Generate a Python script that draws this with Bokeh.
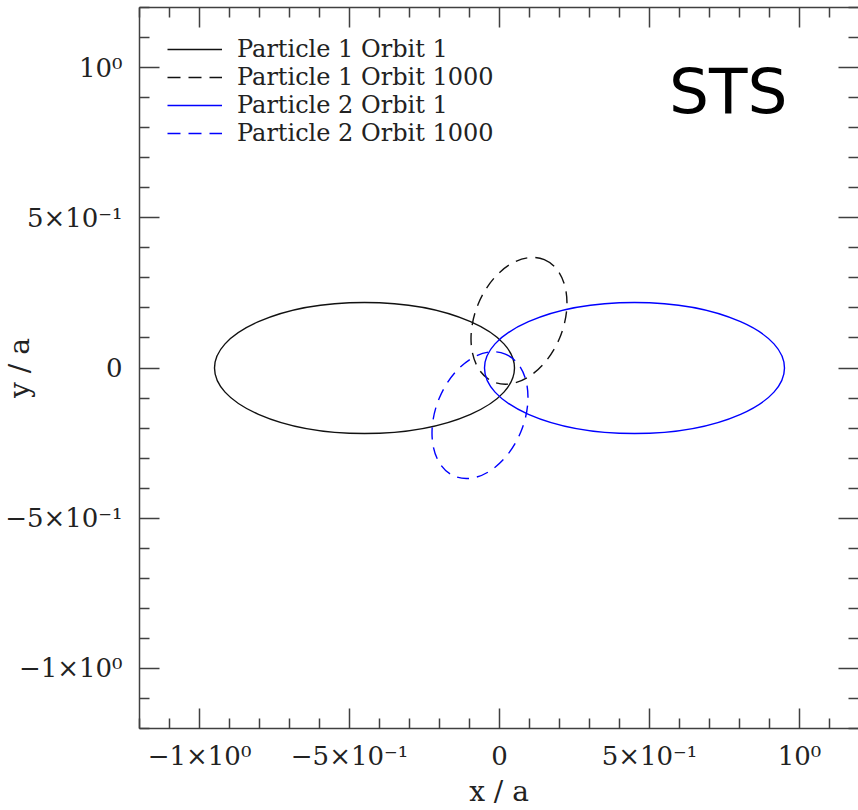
import math
from bokeh.plotting import figure
from bokeh.models import (Range1d, LinearAxis, FixedTicker, Legend, LegendItem, Label)
from bokeh.embed import file_html
from bokeh.resources import INLINE

# ---- data ----
orbit_names = ["Particle 1 Orbit 1", "Particle 1 Orbit 1000",
               "Particle 2 Orbit 1", "Particle 2 Orbit 1000"]
center_x = [-0.45, 0.065, 0.45, -0.065]
center_y = [0.0, 0.157, 0.0, -0.157]
major_axis = [1.0, 0.441, 1.0, 0.441]
minor_axis = [0.436, 0.294, 0.436, 0.294]
tilt_deg = [0.0, 67.5, 0.0, 67.5]

tick_values = [-1.0, -0.5, 0.0, 0.5, 1.0]
tick_labels = ["\u22121\u00d710\u2070", "\u22125\u00d710\u207b\u00b9", "0",
               "5\u00d710\u207b\u00b9", "10\u2070"]
minor_tick_values = [-1.2, -1.1, -0.9, -0.8, -0.7, -0.6, -0.4, -0.3, -0.2, -0.1,
                     0.1, 0.2, 0.3, 0.4, 0.6, 0.7, 0.8, 0.9, 1.1, 1.2]

# ---- styles ----
line_colors = ["#111111", "#111111", "#0000ff", "#0000ff"]
line_dashes = ["solid", "12 8", "solid", "12 8"]
legend_dashes = ["solid", "13 8", "solid", "13 8"]
AX = "#404040"
SERIF = "DejaVu Serif"

p = figure(width=858, height=810,
           x_range=Range1d(-1.2, 1.1967), y_range=Range1d(-1.2, 1.2),
           output_backend="svg", toolbar_location=None,
           x_axis_location=None, y_axis_location=None,
           min_border_left=139, min_border_right=0,
           min_border_top=7, min_border_bottom=82)
p.xgrid.visible = False
p.ygrid.visible = False
p.outline_line_color = None
p.background_fill_color = "white"
p.border_fill_color = "white"


def make_axis(show_labels, show_line=True):
    ax = LinearAxis(ticker=FixedTicker(ticks=tick_values, minor_ticks=minor_tick_values))
    ax.major_tick_in = 20
    ax.major_tick_out = 0
    ax.minor_tick_in = 10
    ax.minor_tick_out = 0
    ax.axis_line_color = AX if show_line else None
    ax.axis_line_width = 1.5
    ax.major_tick_line_color = AX
    ax.major_tick_line_width = 1.5
    ax.minor_tick_line_color = AX
    ax.minor_tick_line_width = 1.5
    if show_labels:
        ax.major_label_overrides = {v: t for v, t in zip(tick_values, tick_labels)}
        ax.major_label_text_font = SERIF
        ax.major_label_text_font_size = "26px"
        ax.major_label_text_color = "#222222"
        ax.axis_label_text_font = SERIF
        ax.axis_label_text_font_size = "28px"
        ax.axis_label_text_font_style = "normal"
        ax.axis_label_text_color = "#222222"
    else:
        ax.major_label_text_font_size = "0px"
        ax.major_label_text_color = None
        ax.major_label_standoff = 0
    return ax


bottom = make_axis(True)
bottom.major_label_standoff = 12
bottom.axis_label = "x / a"
bottom.axis_label_standoff = 1
left = make_axis(True)
left.major_label_standoff = 17
left.axis_label = "y / a"
left.axis_label_standoff = -34
top = make_axis(False)
right = make_axis(False, show_line=False)
p.add_layout(bottom, "below")
p.add_layout(left, "left")
p.add_layout(top, "above")
p.add_layout(right, "right")

items = []
for i, name in enumerate(orbit_names):
    p.ellipse(x=[center_x[i]], y=[center_y[i]], width=[major_axis[i]],
              height=[minor_axis[i]], angle=[math.radians(tilt_deg[i])],
              fill_color=None, line_color=line_colors[i], line_width=1.4,
              line_dash=line_dashes[i])
    key = p.line(x=[center_x[i]], y=[center_y[i]], line_color=line_colors[i],
                 line_width=1.4, line_dash=legend_dashes[i])
    items.append(LegendItem(label=name, renderers=[key]))

legend = Legend(items=items, location="top_left", margin=28, padding=0,
                spacing=0, glyph_width=55, glyph_height=28, label_height=28,
                label_standoff=15, border_line_color=None,
                background_fill_alpha=0,
                label_text_font=SERIF, label_text_font_size="24px",
                label_text_color="#222222")
p.add_layout(legend)

p.add_layout(Label(x=0.96, y=0.92, text="STS", text_align="right",
                   text_baseline="alphabetic", text_font="DejaVu Sans",
                   text_font_size="63px", text_color="black"))

open("out.html", "w").write(file_html(p, INLINE))
